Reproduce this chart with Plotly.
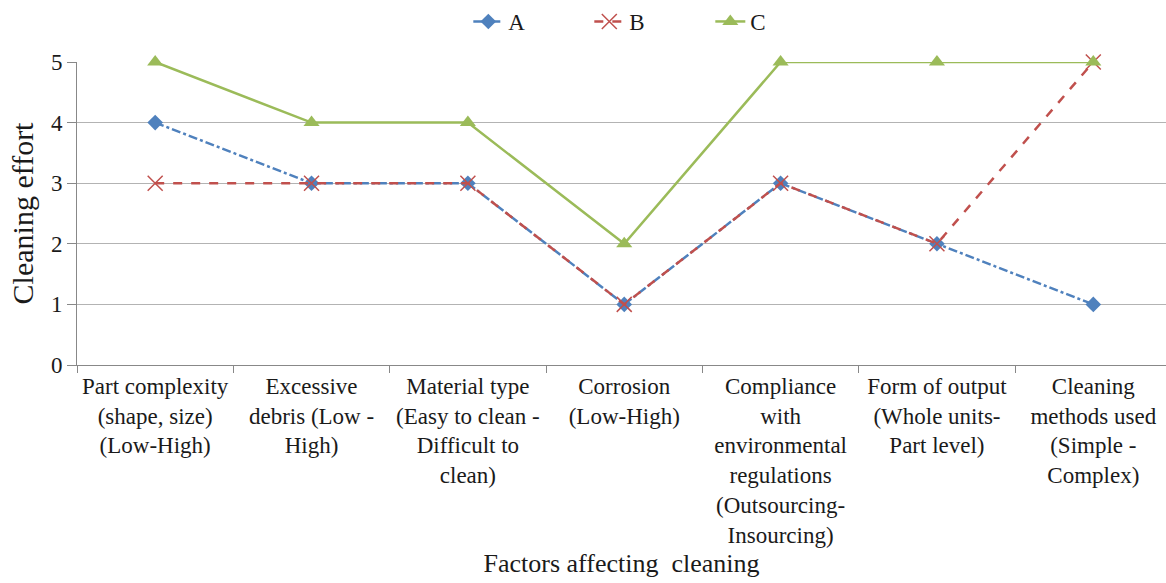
import plotly.graph_objects as go

categories = [
    "Part complexity<br>(shape, size)<br>(Low-High)",
    "Excessive<br>debris (Low -<br>High)",
    "Material type<br>(Easy to clean -<br>Difficult to<br>clean)",
    "Corrosion<br>(Low-High)",
    "Compliance<br>with<br>environmental<br>regulations<br>(Outsourcing-<br>Insourcing)",
    "Form of output<br>(Whole units-<br>Part level)",
    "Cleaning<br>methods used<br>(Simple -<br>Complex)",
]
series_a = [4, 3, 3, 1, 3, 2, 1]
series_b = [3, 3, 3, 1, 3, 2, 5]
series_c = [5, 4, 4, 2, 5, 5, 5]
y_ticks = [0, 1, 2, 3, 4, 5]

FONT = "'Times New Roman', 'Liberation Serif', Times, serif"

fig = go.Figure()
fig.add_trace(go.Scatter(
    x=categories, y=series_a, name="A", mode="lines+markers", cliponaxis=False,
    line=dict(color="#4F81BD", width=2.5, dash="dashdot"),
    marker=dict(symbol="diamond", size=12, color="#4F81BD"),
))
fig.add_trace(go.Scatter(
    x=categories, y=series_b, name="B", mode="lines+markers", cliponaxis=False,
    line=dict(color="#C0504D", width=2.5, dash="dash"),
    marker=dict(symbol="x-thin", size=15, color="#C0504D",
                line=dict(color="#C0504D", width=1.5)),
))
fig.add_trace(go.Scatter(
    x=categories, y=series_c, name="C", mode="lines+markers", cliponaxis=False,
    line=dict(color="#9BBB59", width=2.5),
    marker=dict(symbol="triangle-up", size=14, color="#9BBB59"),
))

fig.update_layout(
    width=1166, height=583,
    margin=dict(l=77, r=0, t=62, b=218),
    paper_bgcolor="white", plot_bgcolor="white",
    font=dict(family=FONT, size=19, color="#1a1a1a"),
    showlegend=True,
    legend=dict(orientation="h", x=0.526, xanchor="center", y=1.0, yanchor="top",
                yref="container", font=dict(family=FONT, size=23),
                entrywidth=76, entrywidthmode="pixels", traceorder="normal"),
    xaxis=dict(
        type="category", range=[-0.5, 6.465],
        showgrid=False, showline=True, linecolor="#888888", linewidth=1,
        ticks="outside", tickson="boundaries", ticklen=7, tickcolor="#888888",
        tickfont=dict(family=FONT, size=23),
        title=dict(text="Factors affecting  cleaning", font=dict(family=FONT, size=26), standoff=6),
        tickangle=0,
    ),
    yaxis=dict(
        range=[0, 5], tickvals=y_ticks, showgrid=True, gridcolor="#b3b3b3", gridwidth=1,
        showline=True, linecolor="#888888", linewidth=1,
        ticks="outside", ticklen=9, tickcolor="#888888",
        tickfont=dict(family=FONT, size=23),
        title=dict(text="Cleaning effort", font=dict(family=FONT, size=30), standoff=8),
        zeroline=False,
    ),
)
fig.write_html("out.html")
